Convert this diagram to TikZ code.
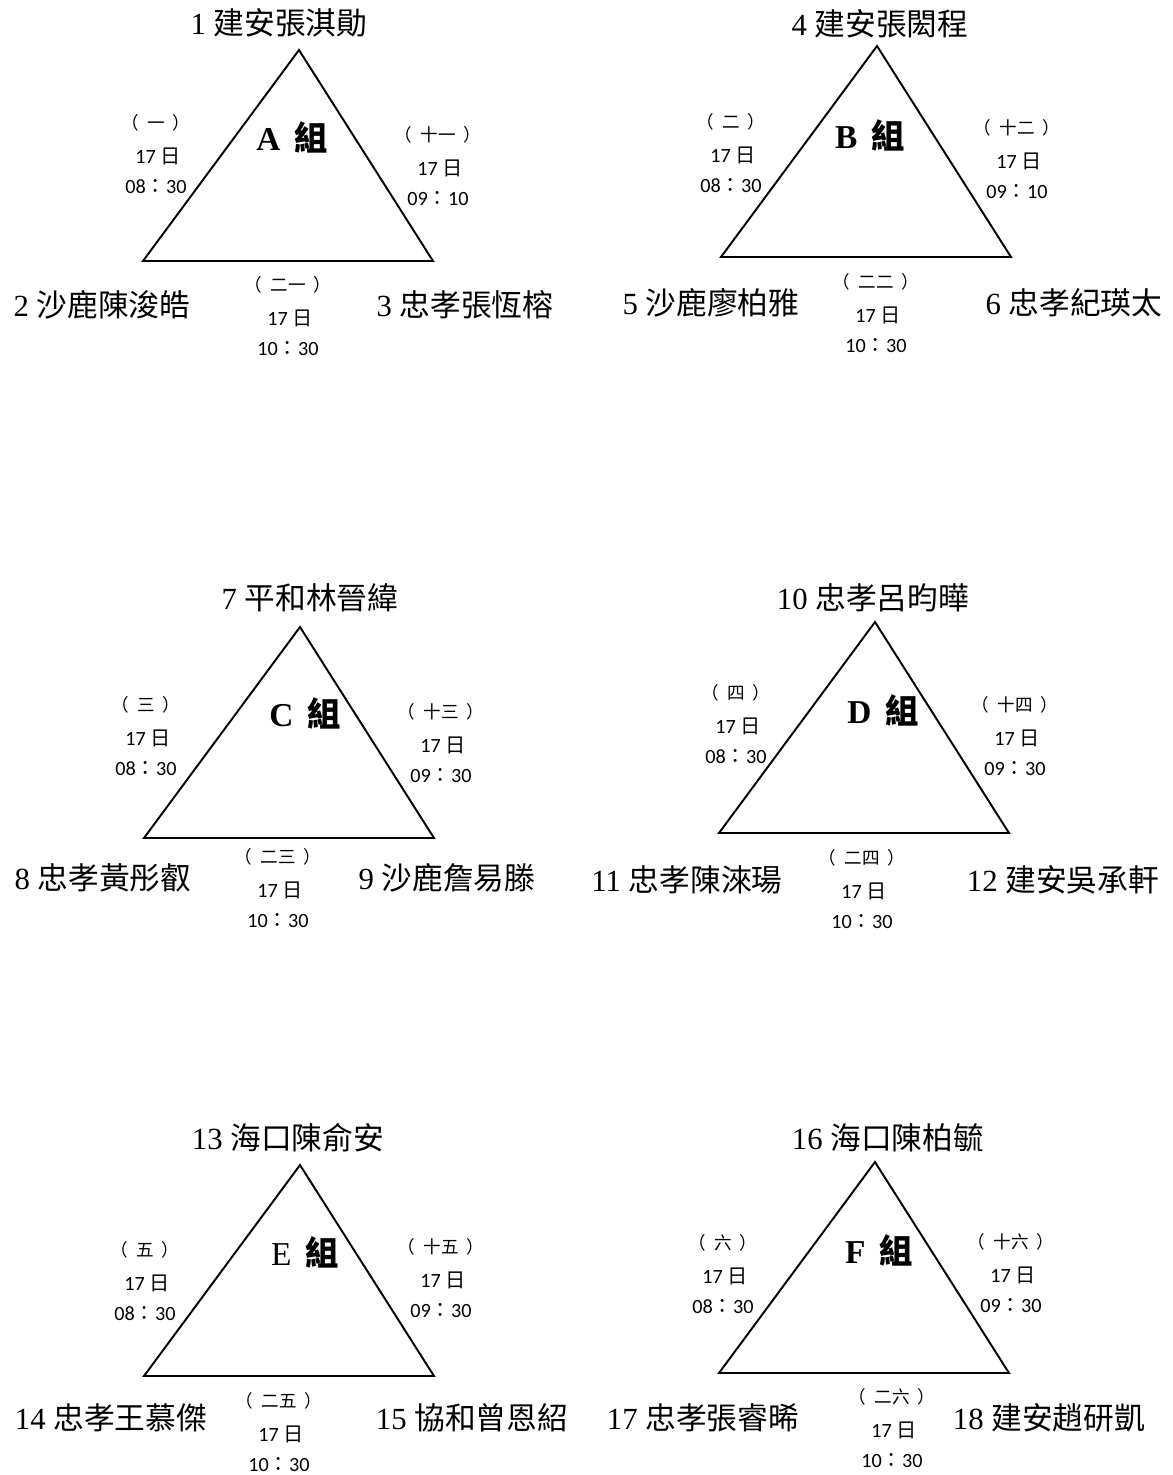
\documentclass[tikz,border=0pt]{standalone}
\usepackage{fontspec}
\setmainfont{Liberation Serif}
\newfontfamily\cjk{Noto Sans CJK TC}
\newfontfamily\cali{Carlito}
\tikzset{
  tri/.style={line width=1.1pt, line join=miter},
  who/.style={inner sep=0pt, font=\fontsize{17.5}{20}\selectfont},
  grp/.style={inner sep=0pt, font=\fontsize{19}{22}\selectfont\bfseries},
  game/.style={inner sep=0pt, font=\cjk\fontsize{10}{12}\selectfont},
  clock/.style={inner sep=0pt, font=\cali\fontsize{11.5}{14}\selectfont}
}
\begin{document}
\begin{tikzpicture}[x=0.02cm,y=-0.02cm]
  \useasboundingbox (0,0) rectangle (1173,1475);
  % the six groups
  \foreach \g/\x/\y in {A/299/50,B/877/46,C/300/627,D/875/622,E/300/1165,F/875/1162} {
    \coordinate (\g1) at (\x,\y);
    \coordinate (\g2) at (\x-156,\y+211);
    \coordinate (\g3) at (\x+134,\y+211);
    \draw[tri] (\g1) -- (\g2) -- (\g3) -- cycle;
  }
  % players
  \node[who] (A1n) at (279,23) {1 {\cjk 建安張淇勛}};
  \node[who] (A2n) at (102,305) {2 {\cjk 沙鹿陳浚皓}};
  \node[who] (A3n) at (465,305) {3 {\cjk 忠孝張恆榕}};
  \node[who] (B1n) at (880,24) {4 {\cjk 建安張閎程}};
  \node[who] (B2n) at (711,303) {5 {\cjk 沙鹿廖柏雅}};
  \node[who] (B3n) at (1074,303) {6 {\cjk 忠孝紀瑛太}};
  \node[who] (C1n) at (310,598) {7 {\cjk 平和林晉緯}};
  \node[who] (C2n) at (103,878) {8 {\cjk 忠孝黃彤叡}};
  \node[who] (C3n) at (447,878) {9 {\cjk 沙鹿詹易滕}};
  \node[who] (D1n) at (873,598) {10 {\cjk 忠孝呂昀曄}};
  \node[who] (D2n) at (687,880) {11 {\cjk 忠孝陳淶瑒}};
  \node[who] (D3n) at (1063,880) {12 {\cjk 建安吳承軒}};
  \node[who] (E1n) at (288,1138) {13 {\cjk 海口陳俞安}};
  \node[who] (E2n) at (111,1418) {14 {\cjk 忠孝王慕傑}};
  \node[who] (E3n) at (472,1418) {15 {\cjk 協和曾恩紹}};
  \node[who] (F1n) at (888,1138) {16 {\cjk 海口陳柏毓}};
  \node[who] (F2n) at (703,1418) {17 {\cjk 忠孝張睿晞}};
  \node[who] (F3n) at (1049,1418) {18 {\cjk 建安趙研凱}};
  % group labels
  \node[grp] (Ag) at (292,137) {A\ \,{\cjk 組}};
  \node[grp] (Bg) at (870,135) {B\ \,{\cjk 組}};
  \node[grp] (Cg) at (305,713) {C\ \,{\cjk 組}};
  \node[grp] (Dg) at (883,710) {D\ \,{\cjk 組}};
  \node[grp] (Eg) at (305,1252) {{\mdseries E}\ \,{\cjk 組}};
  \node[grp] (Fg) at (879,1250) {F\ \,{\cjk 組}};
  % games: number, day, time
  \foreach \g/\p/\x/\y/\k/\hh/\mm in {
    A/l/156/123/一/08/30, A/r/438/135/十一/09/10, A/b/288/285/二一/10/30,
    B/l/731/122/二/08/30, B/r/1017/128/十二/09/10, B/b/876/282/二二/10/30,
    C/l/146/705/三/08/30, C/r/441/712/十三/09/30, C/b/278/857/二三/10/30,
    D/l/736/693/四/08/30, D/r/1015/705/十四/09/30, D/b/862/858/二四/10/30,
    E/l/145/1250/五/08/30, E/r/441/1247/十五/09/30, E/b/279/1401/二五/10/30,
    F/l/723/1243/六/08/30, F/r/1011/1242/十六/09/30, F/b/892/1397/二六/10/30} {
    \node[game] (\g\p-no) at (\x,\y) {（\kern4.5pt\k\kern4.5pt）};
    \node[clock] (\g\p-day) at (\x+2,\y+33) {17 {\cjk 日}};
    \node[clock] (\g\p-time) at (\x,\y+64) {\hh{\cjk ：}\mm};
  }
\end{tikzpicture}
\end{document}
